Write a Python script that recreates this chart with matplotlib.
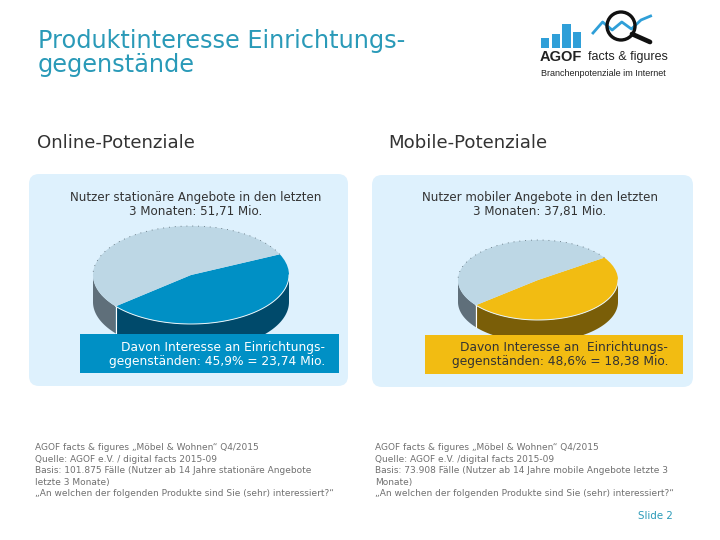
import numpy as np
import matplotlib
matplotlib.use('Agg')
import matplotlib.pyplot as plt
from matplotlib.patches import Wedge, FancyBboxPatch, Rectangle, Circle, Polygon
from matplotlib.transforms import Affine2D

plt.rcParams['font.family'] = ['DejaVu Sans']

# chart values
title_lines = ['Produktinteresse Einrichtungs-', 'gegenstände']
online_share = 45.9
mobile_share = 48.6
online_head = ['Nutzer stationäre Angebote in den letzten', '3 Monaten: 51,71 Mio.']
mobile_head = ['Nutzer mobiler Angebote in den letzten', '3 Monaten: 37,81 Mio.']
online_box = ['Davon Interesse an Einrichtungs-', 'gegenständen: 45,9% = 23,74 Mio.']
mobile_box = ['Davon Interesse an  Einrichtungs-', 'gegenständen: 48,6% = 18,38 Mio.']
online_notes = ['AGOF facts & figures „Möbel & Wohnen“ Q4/2015',
                'Quelle: AGOF e.V. / digital facts 2015-09',
                'Basis: 101.875 Fälle (Nutzer ab 14 Jahre stationäre Angebote',
                'letzte 3 Monate)',
                '„An welchen der folgenden Produkte sind Sie (sehr) interessiert?“']
mobile_notes = ['AGOF facts & figures „Möbel & Wohnen“ Q4/2015',
                'Quelle: AGOF e.V. /digital facts 2015-09',
                'Basis: 73.908 Fälle (Nutzer ab 14 Jahre mobile Angebote letzte 3',
                'Monate)',
                '„An welchen der folgenden Produkte sind Sie (sehr) interessiert?“']
logo_bars = [10, 14, 24, 16]
logo_line = [33, 22, 30, 22, 29, 20, 16]

TEAL = '#2a9ab8'
GREY = '#707070'
INK = '#333333'


def draw_pie(ax, cx, cy, rx, ry, depth, share, start, col, col_dark):
    to_data = Affine2D().scale(rx, -ry).translate(cx, cy) + ax.transData
    end = start - share * 3.6

    def wall(a, b, color):
        t = np.radians(np.linspace(a, b, 80))
        x = cx + rx * np.cos(t)
        y = cy - ry * np.sin(t)
        pts = np.r_[np.c_[x, y], np.c_[x, y + depth][::-1]]
        ax.add_patch(Polygon(pts, closed=True, fc=color, ec='none', zorder=2))

    # the side walls, only the front half can be seen
    wall(180, end + 360, '#5f6f7a')
    wall(end + 360, 360, col_dark)
    edge_x = cx + rx * np.cos(np.radians(end))
    edge_y = cy - ry * np.sin(np.radians(end))
    ax.plot([edge_x, edge_x], [edge_y, edge_y + depth], color='white', lw=0.8, zorder=3)

    ax.add_patch(Wedge((0, 0), 1, end, start, fc=col, ec='none', transform=to_data, zorder=3))
    ax.add_patch(Wedge((0, 0), 1, start, end + 360, fc='#bdd7e5', ec='none', transform=to_data, zorder=3))

    # light rim under the coloured slice and dotted rim on the back
    t = np.radians(np.linspace(end, min(start, 0), 80))
    ax.plot(cx + rx * np.cos(t), cy - ry * np.sin(t), color='#e8f4f8', lw=0.7, zorder=4)
    t = np.radians(np.linspace(start, 180, 80))
    ax.plot(cx + rx * np.cos(t), cy - ry * np.sin(t), color='#55656f', lw=0.6, ls=(0, (1, 6)), zorder=4)


def panel(ax, x0, y0, x1, y1):
    ax.add_patch(FancyBboxPatch((x0 + 10, y0 + 10), x1 - x0 - 20, y1 - y0 - 20,
                                boxstyle='round,pad=10,rounding_size=10',
                                fc='#def1fd', ec='none', zorder=1))


fig = plt.figure(figsize=(7.2, 5.4), dpi=100, facecolor='white')
ax = fig.add_axes([0, 0, 1, 1])
ax.set_xlim(0, 720)
ax.set_ylim(540, 0)
ax.axis('off')

# header
ax.text(38, 41, title_lines[0], color=TEAL, fontsize=17.3, va='center', ha='left')
ax.text(38, 65, title_lines[1], color=TEAL, fontsize=17.3, va='center', ha='left')
ax.text(37, 143, 'Online-Potenziale', color=INK, fontsize=13.1, va='center')
ax.text(388, 143, 'Mobile-Potenziale', color=INK, fontsize=13.1, va='center')

# panels
panel(ax, 29, 174, 348, 386)
panel(ax, 372, 175, 693, 387)

draw_pie(ax, 191, 275, 98, 49, 27, online_share, 25, '#0090c5', '#004a6b')
draw_pie(ax, 538, 280, 80, 40, 22, mobile_share, 34, '#f2bc12', '#7a5e08')

ax.text(195.5, 197, online_head[0], color=INK, fontsize=8.6, ha='center', va='center', zorder=6)
ax.text(195.5, 211, online_head[1], color=INK, fontsize=8.6, ha='center', va='center', zorder=6)
ax.text(539.5, 198, mobile_head[0], color=INK, fontsize=8.6, ha='center', va='center', zorder=6)
ax.text(539.5, 212, mobile_head[1], color=INK, fontsize=8.6, ha='center', va='center', zorder=6)

ax.add_patch(Rectangle((80, 334), 259, 39, fc='#0090c5', ec='none', zorder=5))
ax.add_patch(Rectangle((425, 335), 258, 39, fc='#f2bc12', ec='none', zorder=5))
ax.text(325, 347, online_box[0], color='white', fontsize=8.8, ha='right', va='center', zorder=6)
ax.text(325, 361, online_box[1], color='white', fontsize=8.8, ha='right', va='center', zorder=6)
ax.text(668, 348, mobile_box[0], color=INK, fontsize=8.8, ha='right', va='center', zorder=6)
ax.text(668, 362, mobile_box[1], color=INK, fontsize=8.8, ha='right', va='center', zorder=6)

# footnotes
for i, line in enumerate(online_notes):
    ax.text(35, 448 + i * 11.4, line, color=GREY, fontsize=6.5, va='center')
for i, line in enumerate(mobile_notes):
    ax.text(375, 448 + i * 11.4, line, color=GREY, fontsize=6.5, va='center')
ax.text(673, 516, 'Slide 2', color=TEAL, fontsize=7.4, ha='right', va='center')

# logo
for i, h in enumerate(logo_bars):
    ax.add_patch(Rectangle((541 + i * 10.7, 48 - h), 8.2, h, fc='#2f9fd8', ec='none'))
ax.plot(593 + np.arange(len(logo_line)) * 9.6, logo_line, color='#2f9fd8', lw=2, zorder=2)
ax.add_patch(Circle((621, 26), 14, fc='none', ec='#111111', lw=2.4, zorder=3))
ax.plot([632, 650], [34, 42], color='#111111', lw=3.4, solid_capstyle='round', zorder=3)
ax.text(540, 57, 'AGOF', family='Liberation Sans', weight='bold', fontsize=10.5, color='#222222', va='center')
ax.text(588, 57, 'facts & figures', family='Liberation Sans', fontsize=9.0, color='#222222', va='center')
ax.text(541, 73, 'Branchenpotenziale im Internet', family='Liberation Sans', fontsize=6.5, color='#222222', va='center')

fig.savefig('out.png', dpi=100)
